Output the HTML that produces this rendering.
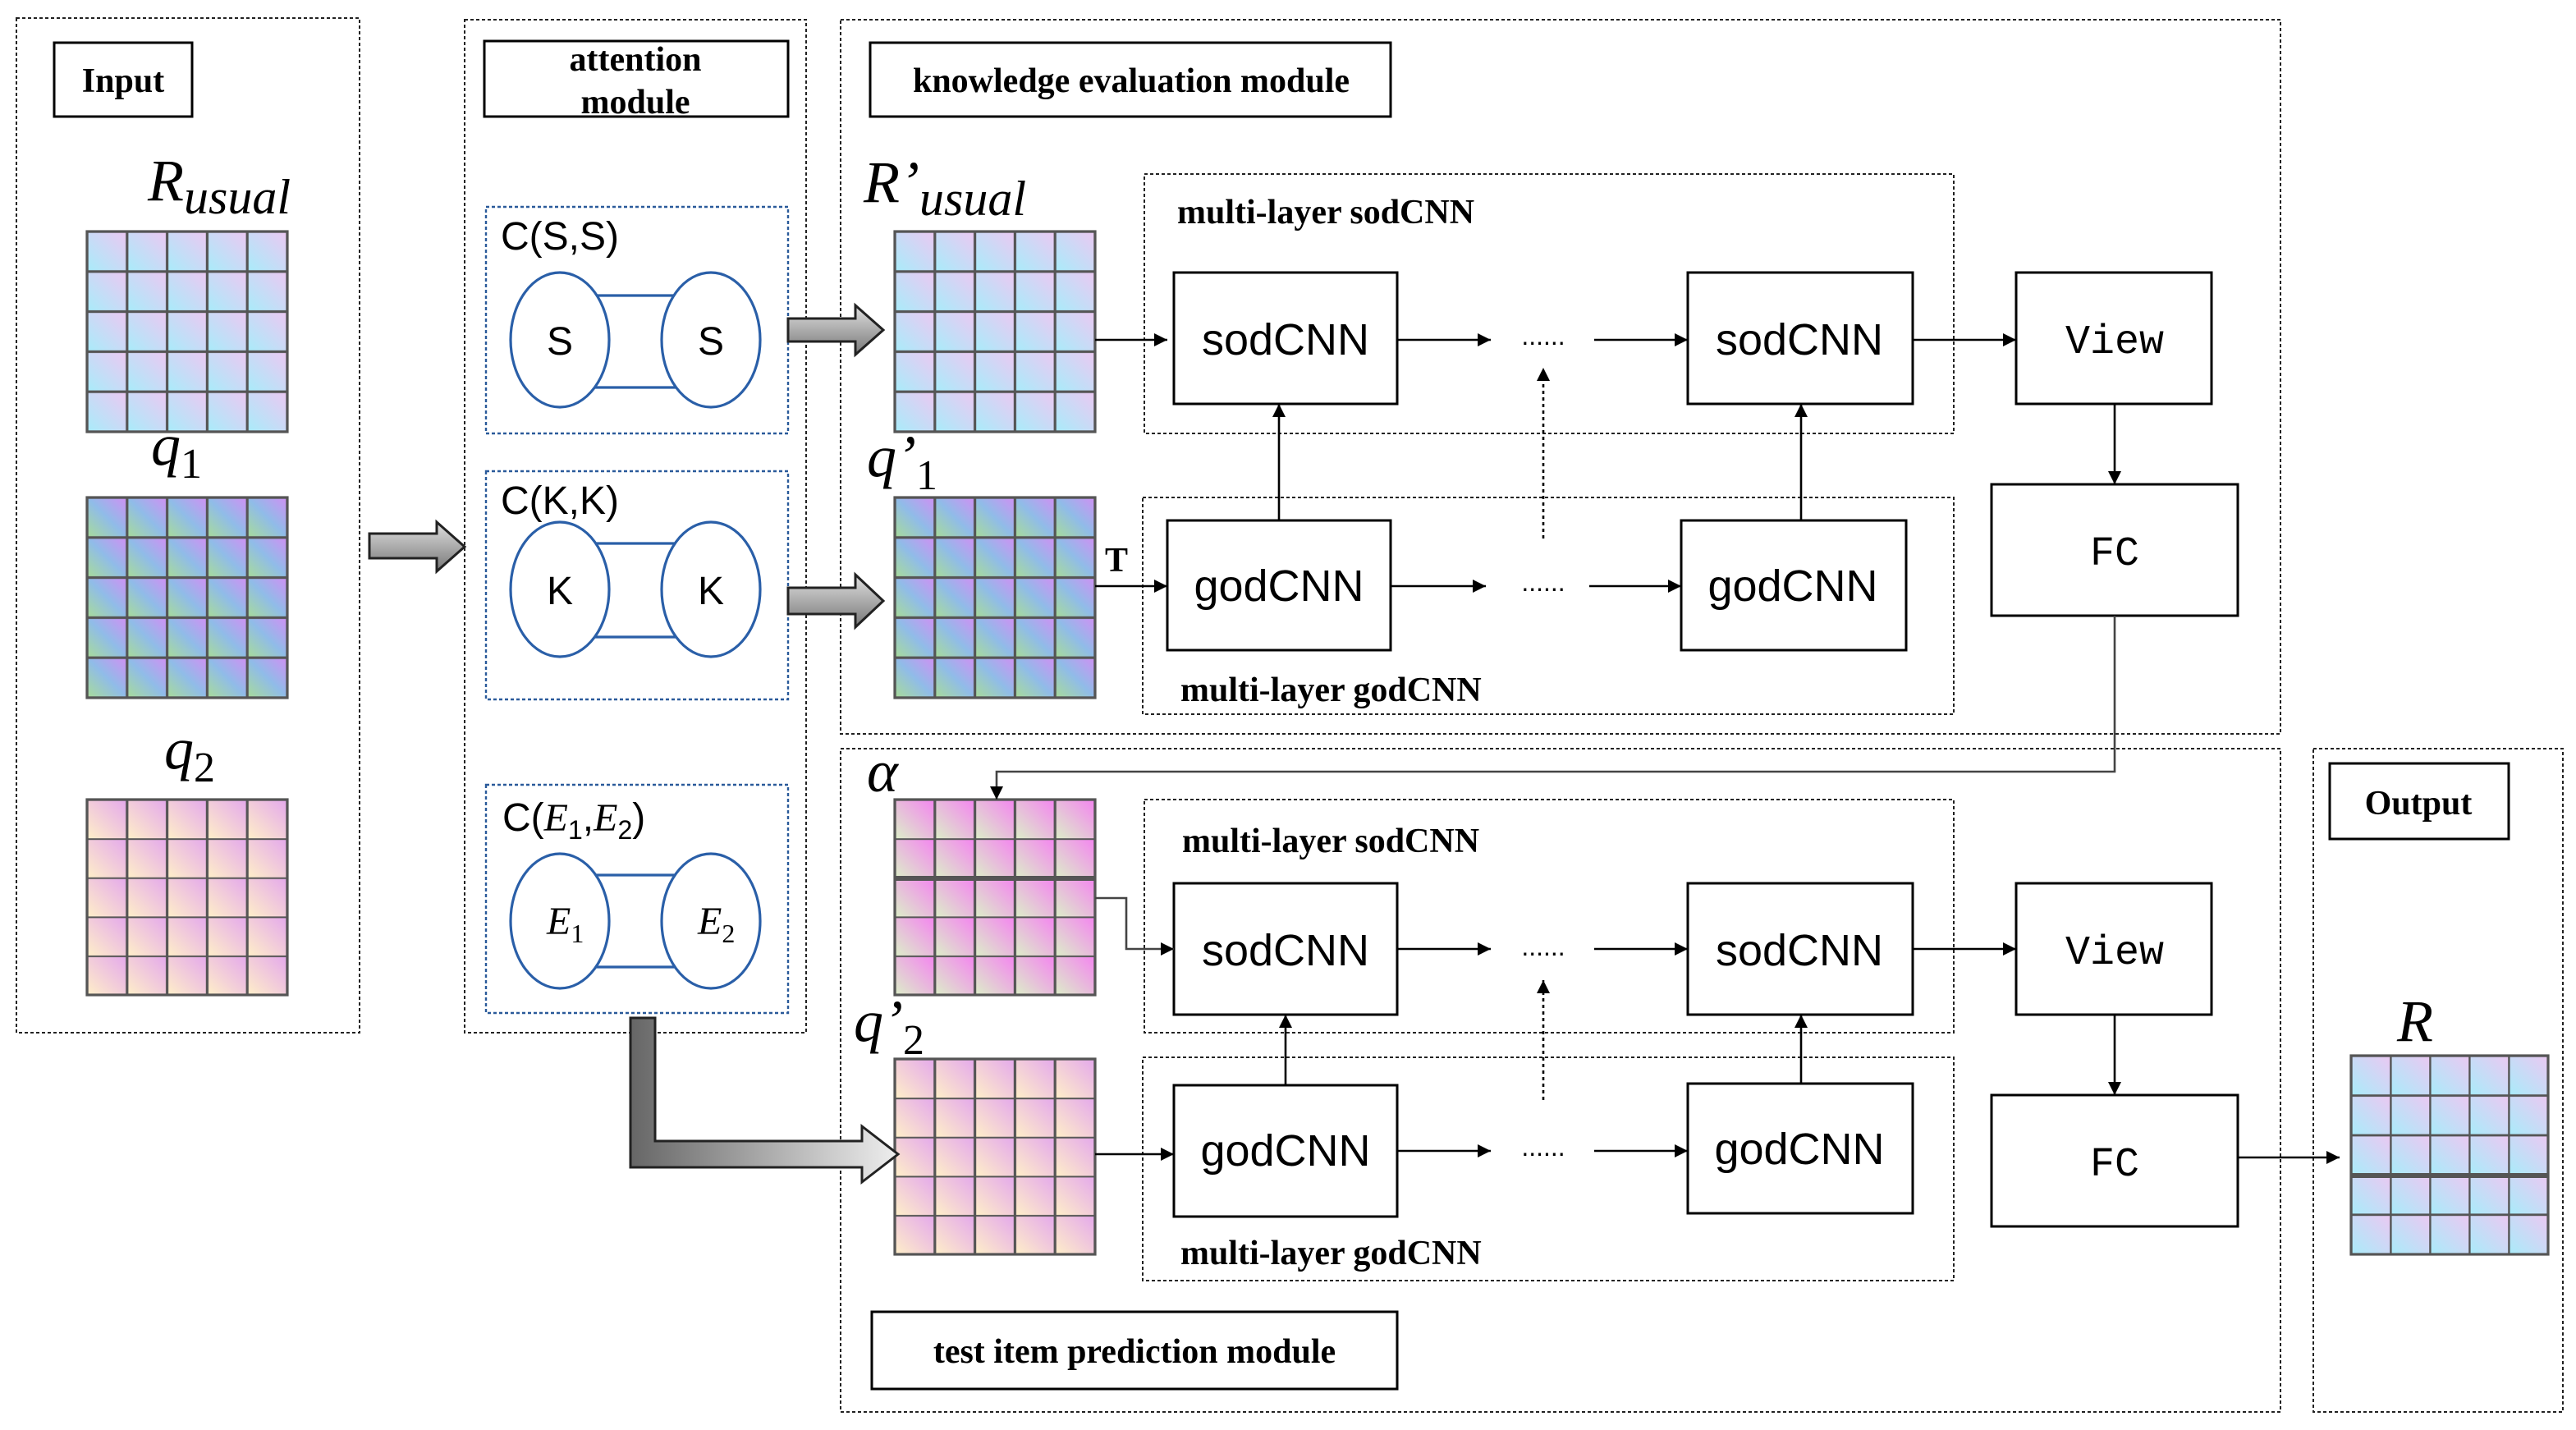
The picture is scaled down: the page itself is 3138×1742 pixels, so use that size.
<!DOCTYPE html>
<html><head><meta charset="utf-8"><style>
html,body{margin:0;padding:0;background:#fff;width:3138px;height:1742px;overflow:hidden}
svg{display:block}
.lb{font-family:"Liberation Serif",serif;font-weight:bold;font-size:21px;fill:#000}
.bx{font-family:"Liberation Sans",sans-serif;font-size:27px;fill:#000}
.mono{font-family:"Liberation Mono",monospace;font-size:25px;fill:#000}
.m{font-family:"Liberation Serif",serif;font-style:italic;fill:#000}
.c{font-family:"Liberation Sans",sans-serif;font-size:24px;fill:#000}
</style></head><body>
<svg width="3138" height="1742" viewBox="0 0 1569 871" xmlns="http://www.w3.org/2000/svg">
<defs>
<linearGradient id="gA" x1="0" y1="1" x2="1" y2="0"><stop offset="0" stop-color="#a8ecfa"/><stop offset="1" stop-color="#ecc8f2"/></linearGradient>
<linearGradient id="gB" x1="0" y1="1" x2="1" y2="0"><stop offset="0" stop-color="#a8dc98"/><stop offset="0.5" stop-color="#90bce8"/><stop offset="1" stop-color="#d090f4"/></linearGradient>
<linearGradient id="gC" x1="0" y1="1" x2="1" y2="0"><stop offset="0" stop-color="#fff0c8"/><stop offset="1" stop-color="#e4a8ec"/></linearGradient>
<linearGradient id="gD" x1="0" y1="1" x2="1" y2="0"><stop offset="0" stop-color="#dcf0c8"/><stop offset="1" stop-color="#f484f0"/></linearGradient>
<pattern id="pA" width="0.2" height="0.2" patternUnits="objectBoundingBox"><rect width="24.4" height="24.4" fill="url(#gA)" stroke="#555" stroke-width="1.6"/></pattern>
<pattern id="pB" width="0.2" height="0.2" patternUnits="objectBoundingBox"><rect width="24.4" height="24.4" fill="url(#gB)" stroke="#555" stroke-width="1.6"/></pattern>
<pattern id="pC" width="0.2" height="0.2" patternUnits="objectBoundingBox"><rect width="24.4" height="24.4" fill="url(#gC)" stroke="#555" stroke-width="1.6"/></pattern>
<pattern id="pD" width="0.2" height="0.2" patternUnits="objectBoundingBox"><rect width="24.4" height="24.4" fill="url(#gD)" stroke="#555" stroke-width="1.6"/></pattern>
<linearGradient id="gr" x1="0" y1="0" x2="0" y2="1"><stop offset="0" stop-color="#e0e0e0"/><stop offset="1" stop-color="#777"/></linearGradient>
<linearGradient id="grh" x1="0" y1="0" x2="1" y2="0"><stop offset="0" stop-color="#666"/><stop offset="1" stop-color="#eee"/></linearGradient>
<marker id="ar" viewBox="0 0 10 10" refX="10" refY="5" markerWidth="8" markerHeight="8" markerUnits="userSpaceOnUse" orient="auto"><path d="M0,0L10,5L0,10z" fill="#000"/></marker>
</defs>

<g fill="none" stroke="#222" stroke-width="1" stroke-dasharray="2,1.5">
<rect x="10" y="11" width="209" height="618"/>
<rect x="283" y="12" width="208" height="617"/>
<rect x="512" y="12" width="877" height="435"/>
<rect x="512" y="456" width="877" height="404"/>
<rect x="1409" y="456" width="152" height="404"/>
<rect x="697" y="106" width="493" height="158"/>
<rect x="696" y="303" width="494" height="132"/>
<rect x="697" y="487" width="493" height="142"/>
<rect x="696" y="644" width="494" height="136"/>
</g>
<g fill="none" stroke="#2a5a9a" stroke-width="1.2" stroke-dasharray="2,1.5">
<rect x="296" y="126" width="184" height="138"/>
<rect x="296" y="287" width="184" height="139"/>
<rect x="296" y="478" width="184" height="139"/>
</g>

<g fill="#fff" stroke="#000" stroke-width="1.5">
<rect x="33" y="26" width="84" height="45"/>
<rect x="295" y="25" width="185" height="46"/>
<rect x="530" y="26" width="317" height="45"/>
<rect x="531" y="799" width="320" height="47"/>
<rect x="1419" y="465" width="109" height="46"/>
</g>
<text class="lb" x="75" y="56" text-anchor="middle">Input</text>
<text class="lb" x="387" y="43" text-anchor="middle">attention</text>
<text class="lb" x="387" y="69" text-anchor="middle">module</text>
<text class="lb" x="689" y="56" text-anchor="middle">knowledge evaluation module</text>
<text class="lb" x="691" y="830" text-anchor="middle">test item prediction module</text>
<text class="lb" x="1473" y="496" text-anchor="middle">Output</text>

<g stroke="#555" stroke-width="1.6">
<rect x="53" y="141" width="122" height="122" fill="url(#pA)"/>
<rect x="53" y="303" width="122" height="122" fill="url(#pB)"/>
<rect x="53" y="487" width="122" height="119" fill="url(#pC)"/>
<rect x="545" y="141" width="122" height="122" fill="url(#pA)"/>
<rect x="545" y="303" width="122" height="122" fill="url(#pB)"/>
<rect x="545" y="487" width="122" height="119" fill="url(#pD)"/>
<rect x="545" y="645" width="122" height="119" fill="url(#pC)"/>
<rect x="1432" y="643" width="120" height="121" fill="url(#pA)"/>
</g>
<line x1="545" y1="535" x2="667" y2="535" stroke="#555" stroke-width="3"/>
<line x1="1432" y1="716" x2="1552" y2="716" stroke="#555" stroke-width="3"/>

<text class="m" x="90" y="122" font-size="36">R<tspan font-size="30" dy="8">usual</tspan></text>
<text class="m" x="92" y="283" font-size="36">q<tspan font-style="normal" font-size="26" dy="8">1</tspan></text>
<text class="m" x="100" y="468" font-size="36">q<tspan font-style="normal" font-size="26" dy="8">2</tspan></text>
<text class="m" x="526" y="123" font-size="36">R’<tspan font-size="30" dy="8">usual</tspan></text>
<text class="m" x="528" y="290" font-size="36">q’<tspan font-style="normal" font-size="26" dy="8">1</tspan></text>
<text class="m" x="528" y="482" font-size="36">α</text>
<text class="m" x="520" y="634" font-size="36">q’<tspan font-style="normal" font-size="26" dy="8">2</tspan></text>
<text class="m" x="1460" y="634" font-size="36">R</text>

<g fill="none" stroke="#2a5fa8" stroke-width="1.6">
<line x1="362" y1="180" x2="412" y2="180"/><line x1="362" y1="236" x2="412" y2="236"/>
<line x1="362" y1="331" x2="412" y2="331"/><line x1="362" y1="388" x2="412" y2="388"/>
<line x1="362" y1="533" x2="412" y2="533"/><line x1="362" y1="589" x2="412" y2="589"/>
<ellipse cx="341" cy="207" rx="30" ry="41" fill="#fff"/><ellipse cx="433" cy="207" rx="30" ry="41" fill="#fff"/>
<ellipse cx="341" cy="359" rx="30" ry="41" fill="#fff"/><ellipse cx="433" cy="359" rx="30" ry="41" fill="#fff"/>
<ellipse cx="341" cy="561" rx="30" ry="41" fill="#fff"/><ellipse cx="433" cy="561" rx="30" ry="41" fill="#fff"/>
</g>
<text class="c" x="305" y="152">C(S,S)</text>
<text class="c" x="305" y="313">C(K,K)</text>
<text class="c" x="306" y="506">C(<tspan class="m">E</tspan><tspan font-size="16" dy="5">1</tspan><tspan dy="-5">,</tspan><tspan class="m">E</tspan><tspan font-size="16" dy="5">2</tspan><tspan dy="-5">)</tspan></text>
<g class="c" text-anchor="middle"><text x="341" y="216">S</text><text x="433" y="216">S</text><text x="341" y="368">K</text><text x="433" y="368">K</text></g>
<text class="m" x="333" y="569" font-size="24">E<tspan font-style="normal" font-size="16" dy="5">1</tspan></text>
<text class="m" x="425" y="569" font-size="24">E<tspan font-style="normal" font-size="16" dy="5">2</tspan></text>

<g stroke="#222" stroke-width="1.5" fill="url(#gr)">
<path d="M225,325H266V318L283,333L266,348V340H225Z"/>
<path d="M480,194H521V186L538,201L521,216V208H480Z"/>
<path d="M480,358H521V350L538,366L521,382V374H480Z"/>
<path d="M384,620H399V695H525V686L547,703L525,720V711H384Z" fill="url(#grh)"/>
</g>

<g fill="#fff" stroke="#000" stroke-width="1.5">
<rect x="715" y="166" width="136" height="80"/><rect x="1028" y="166" width="137" height="80"/>
<rect x="1228" y="166" width="119" height="80"/><rect x="1213" y="295" width="150" height="80"/>
<rect x="711" y="317" width="136" height="79"/><rect x="1024" y="317" width="137" height="79"/>
<rect x="715" y="538" width="136" height="80"/><rect x="1028" y="538" width="137" height="80"/>
<rect x="1228" y="538" width="119" height="80"/><rect x="1213" y="667" width="150" height="80"/>
<rect x="715" y="661" width="136" height="80"/><rect x="1028" y="660" width="137" height="79"/>
</g>
<g class="bx" text-anchor="middle">
<text x="783" y="216">sodCNN</text><text x="1096" y="216">sodCNN</text>
<text x="779" y="366">godCNN</text><text x="1092" y="366">godCNN</text>
<text x="783" y="588">sodCNN</text><text x="1096" y="588">sodCNN</text>
<text x="783" y="710">godCNN</text><text x="1096" y="709">godCNN</text>
</g>
<g class="mono" text-anchor="middle">
<text x="1288" y="215">View</text><text x="1288" y="344">FC</text>
<text x="1288" y="587">View</text><text x="1288" y="716">FC</text>
</g>
<g font-family="Liberation Sans,sans-serif" font-size="16" text-anchor="middle">
<text x="940" y="210">......</text><text x="940" y="360">......</text>
<text x="940" y="582">......</text><text x="940" y="704">......</text>
</g>
<g class="lb" font-size="20">
<text x="717" y="136">multi-layer sodCNN</text>
<text x="719" y="427">multi-layer godCNN</text>
<text x="720" y="519">multi-layer sodCNN</text>
<text x="719" y="770">multi-layer godCNN</text>
<text x="673" y="348">T</text>
</g>

<g stroke="#000" stroke-width="1.3" fill="none" marker-end="url(#ar)">
<line x1="667" y1="207" x2="711" y2="207"/>
<line x1="851" y1="207" x2="908" y2="207"/>
<line x1="971" y1="207" x2="1028" y2="207"/>
<line x1="1165" y1="207" x2="1228" y2="207"/>
<line x1="1288" y1="246" x2="1288" y2="295"/>
<line x1="779" y1="317" x2="779" y2="246"/>
<line x1="1097" y1="317" x2="1097" y2="246"/>
<line x1="940" y1="328" x2="940" y2="224" stroke-dasharray="2,2"/>
<line x1="667" y1="357" x2="711" y2="357"/>
<line x1="847" y1="357" x2="905" y2="357"/>
<line x1="968" y1="357" x2="1024" y2="357"/>
<path d="M1288,375V470H607V487" stroke="#444"/>
<path d="M667,547H686V578H715" stroke="#444"/>
<line x1="851" y1="578" x2="908" y2="578"/>
<line x1="971" y1="578" x2="1028" y2="578"/>
<line x1="1165" y1="578" x2="1228" y2="578"/>
<line x1="1288" y1="618" x2="1288" y2="667"/>
<line x1="783" y1="661" x2="783" y2="618"/>
<line x1="1097" y1="660" x2="1097" y2="618"/>
<line x1="940" y1="670" x2="940" y2="597" stroke-dasharray="2,2"/>
<line x1="667" y1="703" x2="715" y2="703"/>
<line x1="851" y1="701" x2="908" y2="701"/>
<line x1="971" y1="701" x2="1028" y2="701"/>
<line x1="1363" y1="705" x2="1425" y2="705"/>
</g>
</svg>
</body></html>
